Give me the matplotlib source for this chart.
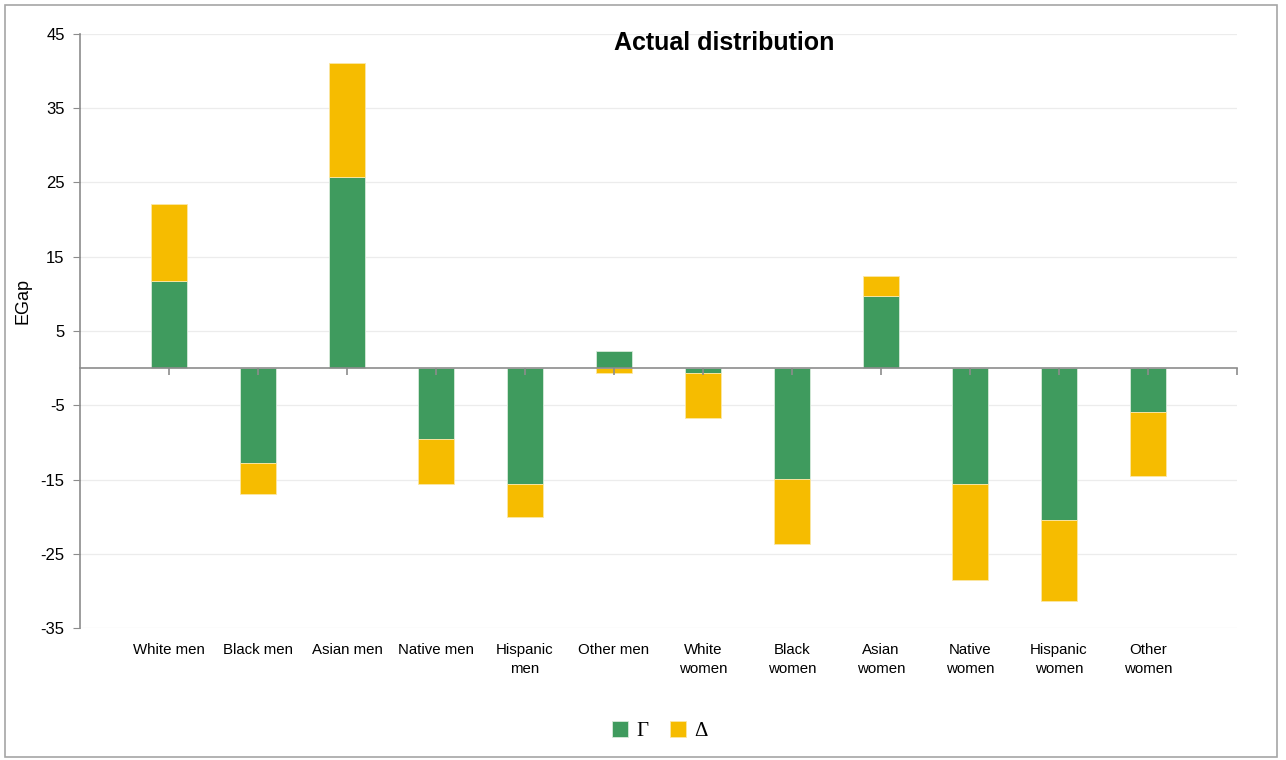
import numpy as np
import matplotlib.pyplot as plt
from matplotlib.patches import Rectangle

plt.rcParams['font.family'] = ['Liberation Sans', 'DejaVu Sans']
plt.rcParams['axes.unicode_minus'] = False

categories = ['White men', 'Black men', 'Asian men', 'Native men', 'Hispanic\nmen',
              'Other men', 'White\nwomen', 'Black\nwomen', 'Asian\nwomen',
              'Native\nwomen', 'Hispanic\nwomen', 'Other\nwomen']
gamma = [11.7, -12.8, 25.7, -9.6, -15.6, 2.3, -0.6, -14.9, 9.7, -15.6, -20.5, -5.9]
delta = [10.4, -4.2, 15.4, -6.0, -4.5, -0.6, -6.1, -8.8, 2.7, -13.0, -10.9, -8.6]

green = '#3F9B5E'
yellow = '#F6BC00'


def stacked_bottoms(first, second):
    # positives stack up, negatives stack down (like Excel)
    first = np.array(first)
    second = np.array(second)
    return np.where(np.sign(second) == np.sign(first), first, 0.0)


fig = plt.figure(figsize=(12.86, 7.6), dpi=100)
ax = fig.add_axes([80 / 1286, 132 / 760, 1157 / 1286, 594 / 760])

x = np.arange(len(categories))
ax.bar(x, gamma, width=0.4, color=green, edgecolor='#d8eadb', linewidth=0.6, label='Γ', zorder=3)
ax.bar(x, delta, width=0.4, bottom=stacked_bottoms(gamma, delta), color=yellow,
       edgecolor='#fbe7a6', linewidth=0.6, label='Δ', zorder=3)

ymin, ymax = -35, 45
ax.set_ylim(ymin, ymax)
ax.set_xlim(-1, len(categories))
ax.set_yticks(np.arange(ymin, ymax + 1, 10))
ax.yaxis.grid(True, color='#ececec', linewidth=0.9, zorder=0)
ax.tick_params(axis='y', labelsize=12, length=5, color='#8c8c8c', pad=6)

ax.set_xticks(x)
ax.set_xticklabels(categories, fontsize=10.8, linespacing=1.45)
ax.tick_params(axis='x', length=0, pad=11)

for s in ['top', 'right', 'bottom']:
    ax.spines[s].set_visible(False)
ax.spines['left'].set_color('#8c8c8c')
ax.spines['left'].set_linewidth(1.2)

# zero line with small ticks at each category, drawn over the bars
sec = ax.secondary_xaxis((0 - ymin) / (ymax - ymin))
sec.set_zorder(5)
sec.set_xticks(list(x) + [len(categories)])
sec.set_xticklabels([])
sec.tick_params(length=5, color='#8c8c8c', width=1.2)
sec.spines['bottom'].set_color('#8c8c8c')
sec.spines['bottom'].set_linewidth(1.2)

ax.set_ylabel('EGap', fontsize=13)
ax.yaxis.set_label_coords(-0.042, 0.55)

fig.text(0.563, 0.943, 'Actual distribution', fontsize=18, fontweight='bold',
         ha='center', va='center')

fig.legend(loc='center', bbox_to_anchor=(0.513, 0.038), ncol=2, frameon=False,
           handlelength=0.8, handleheight=0.8, columnspacing=1.0, handletextpad=0.4,
           prop={'family': 'Liberation Serif', 'size': 15})

fig.patches.append(Rectangle((5 / 1286, 3 / 760), 1272 / 1286, 752 / 760,
                             transform=fig.transFigure, fill=False,
                             edgecolor='#a6a6a6', linewidth=1.2))

fig.savefig('out.png', dpi=100)
